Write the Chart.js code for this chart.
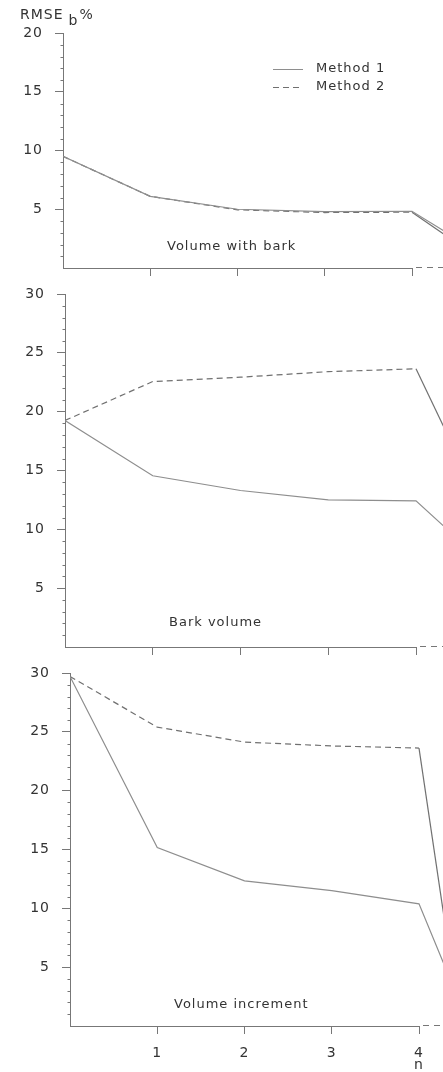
<!DOCTYPE html>
<html>
<head>
<meta charset="utf-8">
<script src="https://cdn.jsdelivr.net/npm/chart.js@4.4.0/dist/chart.umd.min.js"></script>
<style>
  html, body { margin: 0; padding: 0; background: #fff; overflow: hidden; width: 443px; height: 1072px; }
  .panel { position: absolute; left: 0; }
</style>
</head>
<body>
<canvas id="p1" class="panel" width="560" height="280" style="top:0px"></canvas>
<canvas id="p2" class="panel" width="560" height="380" style="top:280px"></canvas>
<canvas id="p3" class="panel" width="560" height="412" style="top:660px"></canvas>
<script>
// n = number of sample trees; the last position sits past the axis break
const nValues = [0, 1, 2, 3, 4, 4.4];
const xTickValues = [1, 2, 3, 4];

// RMSE_b % for each panel
const withBarkMethod1 = [9.5, 6.1, 5.0, 4.8, 4.83, 3.0];
const withBarkMethod2 = [9.5, 6.1, 4.95, 4.72, 4.75, 2.7];
const barkMethod1 = [19.25, 14.55, 13.3, 12.5, 12.42, 9.7];
const barkMethod2 = [19.25, 22.56, 22.93, 23.4, 23.64, 17.4];
const incrementMethod1 = [29.7, 15.17, 12.34, 11.5, 10.38, 3.2];
const incrementMethod2 = [29.7, 25.4, 24.13, 23.8, 23.62, 3.6];

const panelTitles = ['Volume with bark', 'Bark volume', 'Volume increment'];
const seriesNames = ['Method 1', 'Method 2'];
const yMaxValues = [20, 30, 30];

const TEXT = '#333333';
const AXIS = '#777777';
const LINE1 = '#8e8e8e';
const LINE2 = '#707070';
const FONT = "'DejaVu Sans', sans-serif";
const Y_AXIS_W = 60;
const DASH = [6, 4];

function toPoints(values) {
    return nValues.map((n, i) => ({ x: n, y: values[i] }));
}

/**
 * Axis break, minor ticks, panel caption and the extra labels
 */
function decorPlugin(cfg) {
    return {
        id: 'decor',
        beforeDraw(chart) {
            chart.ctx.letterSpacing = '1px';
        },
        afterDraw(chart) {
            const { ctx, chartArea, scales: { x, y } } = chart;
            ctx.save();
            ctx.strokeStyle = AXIS;
            ctx.lineWidth = 1;

            // x axis: solid up to n = 4, dashed after it
            const yb = Math.round(chartArea.bottom) + 0.5;
            const x4 = x.getPixelForValue(4);
            ctx.beginPath();
            ctx.moveTo(chartArea.left, yb);
            ctx.lineTo(x4, yb);
            ctx.stroke();
            ctx.setLineDash([6, 5]);
            ctx.beginPath();
            ctx.moveTo(x4 + 4, yb - 1);
            ctx.lineTo(chartArea.right, yb - 1);
            ctx.stroke();
            ctx.setLineDash([]);

            // minor ticks on the y axis
            const xl = Math.round(chartArea.left) + 0.5;
            for (let v = 1; v < cfg.yMax; v++) {
                if (v % 5 === 0) continue;
                const py = Math.round(y.getPixelForValue(v)) + 0.5;
                ctx.beginPath();
                ctx.moveTo(xl - 3, py);
                ctx.lineTo(xl, py);
                ctx.stroke();
            }

            ctx.fillStyle = TEXT;
            ctx.font = '13px ' + FONT;
            ctx.textBaseline = 'middle';
            ctx.textAlign = 'left';
            ctx.fillText(cfg.title, chartArea.left + 104, chartArea.bottom - cfg.titleOffset);

            if (cfg.legend) {
                ctx.strokeStyle = LINE1;
                ctx.beginPath();
                ctx.moveTo(273, 69.5);
                ctx.lineTo(303, 69.5);
                ctx.stroke();
                ctx.strokeStyle = LINE2;
                ctx.setLineDash(DASH);
                ctx.beginPath();
                ctx.moveTo(273, 87.5);
                ctx.lineTo(303, 87.5);
                ctx.stroke();
                ctx.setLineDash([]);
                ctx.fillText(seriesNames[0], 316, 69);
                ctx.fillText(seriesNames[1], 316, 87);

                // RMSE_b % heading above the first axis
                ctx.font = '14px ' + FONT;
                ctx.fillText('RMSE', 20, 15);
                const w = ctx.measureText('RMSE').width;
                ctx.fillText('b', 20 + w + 5, 21);
                const wb = ctx.measureText('b').width;
                ctx.fillText('%', 20 + w + wb + 6, 15);
            }

            if (cfg.showX) {
                ctx.textAlign = 'center';
                ctx.font = '14px ' + FONT;
                ctx.fillText('n', x4, 405);
            }
            ctx.restore();
            ctx.letterSpacing = '0px';
        },
    };
}

function makePanel(id, cfg) {
    const canvas = document.getElementById(id);
    const W = canvas.width, H = canvas.height;
    const unit = (cfg.x4 - cfg.x0) / 4;
    const areaRight = cfg.x0 + unit * 5;

    return new Chart(canvas.getContext('2d'), {
        type: 'line',
        data: {
            datasets: [
                {
                    label: seriesNames[0],
                    data: toPoints(cfg.m1),
                    borderColor: LINE1,
                    borderWidth: 1.2,
                    pointRadius: 0,
                    tension: 0,
                },
                {
                    label: seriesNames[1],
                    data: toPoints(cfg.m2),
                    borderColor: LINE2,
                    borderWidth: 1.2,
                    borderDash: DASH,
                    pointRadius: 0,
                    tension: 0,
                    // the drop past the break is drawn solid
                    segment: { borderDash: c => (c.p0DataIndex >= 4 ? [] : DASH) },
                },
            ],
        },
        options: {
            responsive: false,
            animation: false,
            layout: {
                padding: {
                    left: cfg.x0 - Y_AXIS_W,
                    right: W - areaRight,
                    top: cfg.top,
                    bottom: H - cfg.bottom - cfg.xAxisH,
                },
            },
            plugins: { legend: { display: false }, tooltip: { enabled: false } },
            scales: {
                x: {
                    type: 'linear',
                    min: 0,
                    max: 5,
                    border: { display: false },
                    grid: { drawOnChartArea: false, drawTicks: true, tickLength: 8, color: AXIS },
                    ticks: {
                        display: cfg.showX,
                        color: TEXT,
                        padding: 11,
                        font: { family: FONT, size: 14 },
                        maxRotation: 0,
                    },
                    afterBuildTicks: s => { s.ticks = xTickValues.map(v => ({ value: v })); },
                    afterFit: s => { s.height = cfg.xAxisH; s.paddingLeft = 0; s.paddingRight = 0; },
                },
                y: {
                    min: 0,
                    max: cfg.yMax,
                    border: { display: true, color: AXIS, width: 1 },
                    grid: { drawOnChartArea: false, drawTicks: true, tickLength: 8, color: AXIS },
                    ticks: {
                        stepSize: 5,
                        color: TEXT,
                        padding: 12,
                        font: { family: FONT, size: 14 },
                    },
                    afterBuildTicks: s => { s.ticks = s.ticks.filter(t => t.value > 0); },
                    afterFit: s => { s.width = Y_AXIS_W; s.paddingTop = 0; s.paddingBottom = 0; },
                },
            },
        },
        plugins: [decorPlugin(cfg)],
    });
}

makePanel('p1', {
    m1: withBarkMethod1, m2: withBarkMethod2, yMax: yMaxValues[0],
    x0: 63, x4: 412, top: 33, bottom: 268, xAxisH: 10,
    title: panelTitles[0], titleOffset: 21, legend: true, showX: false,
});
makePanel('p2', {
    m1: barkMethod1, m2: barkMethod2, yMax: yMaxValues[1],
    x0: 65, x4: 416, top: 14, bottom: 367, xAxisH: 10,
    title: panelTitles[1], titleOffset: 24, legend: false, showX: false,
});
makePanel('p3', {
    m1: incrementMethod1, m2: incrementMethod2, yMax: yMaxValues[2],
    x0: 70, x4: 419, top: 13, bottom: 366, xAxisH: 46,
    title: panelTitles[2], titleOffset: 21, legend: false, showX: true,
});
</script>
</body>
</html>
